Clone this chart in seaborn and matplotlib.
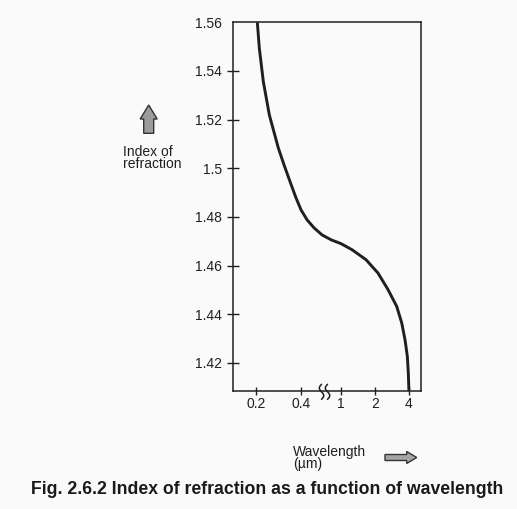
import numpy as np
import pandas as pd
import matplotlib
matplotlib.use("Agg")
import matplotlib.pyplot as plt
from matplotlib.patches import FancyArrow
import seaborn as sns

# Refractive index of glass against wavelength
wavelength_um = [0.2040, 0.2104, 0.2238, 0.2455, 0.2820, 0.3078, 0.3377,
                 0.3703, 0.4000, 0.4598, 0.5408, 0.6510, 0.8022, 1.0102,
                 1.2625, 1.6768, 2.1387, 2.6184, 3.1240, 3.4575, 3.6960,
                 3.8727, 3.9519, 4.0000]
refractive_index = [1.5600, 1.5493, 1.5356, 1.5219, 1.5083, 1.5014, 1.4945,
                    1.4878, 1.4829, 1.4788, 1.4755, 1.4726, 1.4706, 1.4690,
                    1.4665, 1.4624, 1.4569, 1.4501, 1.4432, 1.4364, 1.4295,
                    1.4227, 1.4158, 1.4086]

x_ticks = [0.2, 0.4, 1, 2, 4]
x_tick_labels = ["0.2", "0.4", "1", "2", "4"]
y_ticks = [1.42, 1.44, 1.46, 1.48, 1.50, 1.52, 1.54, 1.56]
y_tick_labels = ["1.42", "1.44", "1.46", "1.48", "1.5", "1.52", "1.54", "1.56"]

y_label = "Index of\nrefraction"
x_label = "Wavelength\n(\u00b5m)"
caption = "Fig. 2.6.2 Index of refraction as a function of wavelength"


# Broken wavelength axis: log spacing below 0.4 um, a compressed gap
# between 0.4 and 1 um, and log spacing again above 1 um.
def forward(lam):
    lam = np.clip(np.asarray(lam, dtype=float), 1e-6, None)
    a = 45.0 * np.log2(lam / 0.2)
    b = 45.0 + 39.5 * np.log(lam / 0.4) / np.log(2.5)
    c = 84.5 + 34.2 * np.log2(lam)
    return np.where(lam <= 0.4, a, np.where(lam < 1.0, b, c))


def inverse(u):
    u = np.asarray(u, dtype=float)
    a = 0.2 * 2.0 ** (u / 45.0)
    b = 0.4 * 2.5 ** ((u - 45.0) / 39.5)
    c = 2.0 ** ((u - 84.5) / 34.2)
    return np.where(u <= 45.0, a, np.where(u < 84.5, b, c))


sns.set_style("white")
plt.rcParams["font.family"] = ["Liberation Sans", "DejaVu Sans"]

W, H = 517, 509
ink = "#1f1f1f"
paper = "#fbfafb"

fig = plt.figure(figsize=(W / 100, H / 100), dpi=100, facecolor=paper)
ax = fig.add_axes([232.7 / W, 1 - 391.3 / H, (421.0 - 232.7) / W, (391.3 - 22.3) / H])
ax.set_facecolor(paper)

df = pd.DataFrame({"wavelength": wavelength_um, "n": refractive_index})
sns.lineplot(data=df, x="wavelength", y="n", sort=False, estimator=None,
             color=ink, linewidth=2.1, ax=ax)
ax.lines[0].set_solid_joinstyle("round")
ax.lines[0].set_solid_capstyle("butt")

ax.set_xscale("function", functions=(forward, inverse))
ax.set_xlim(0.1396, 5.11)
ax.set_ylim(1.4083, 1.56)

ax.set_xticks(x_ticks)
ax.set_xticklabels(x_tick_labels)
ax.set_yticks(y_ticks)
ax.set_yticklabels(y_tick_labels)
ax.minorticks_off()
ax.set_xlabel("")
ax.set_ylabel("")

ax.tick_params(axis="y", direction="inout", length=8.5, width=1.0, pad=3.6,
               labelsize=10, colors=ink, left=True)
ax.tick_params(axis="x", direction="inout", length=6.0, width=1.0, pad=1.0,
               labelsize=10, colors=ink, bottom=True)
# the top label sits on the frame, so its tick mark is hidden
ax.yaxis.get_major_ticks()[-1].tick1line.set_visible(False)

for s in ax.spines.values():
    s.set_visible(True)
    s.set_color(ink)
    s.set_linewidth(1.1)

# Overlay in pixel units for annotations
ov = fig.add_axes([0, 0, 1, 1], facecolor="none")
ov.set_xlim(0, W)
ov.set_ylim(0, H)
ov.axis("off")

# axis-break mark between 0.4 and 1 um
bx = ax.transData.transform((inverse(68.5), 1.42))[0]
by = ax.transData.transform((1.0, 1.4083))[1]
t = np.linspace(0, 1, 40)
for off in (-3.0, 3.0):
    ov.plot(bx + off + 2.2 * np.sin(2 * np.pi * t), by - 8 + 15 * t,
            color=ink, linewidth=1.1)

# axis titles with block arrows
fig.text(122.7 / W, 1 - 158.0 / H, y_label, ha="left", va="center",
         fontsize=10, color=ink, linespacing=0.9)
ov.add_patch(FancyArrow(148.7, H - 133.3, 0, 28.3, width=10, head_width=17,
                        head_length=14, length_includes_head=True,
                        facecolor="#9c9c9c", edgecolor="#333333", linewidth=1.0))

fig.text(293.3 / W, 1 - 458.0 / H, x_label, ha="left", va="center",
         fontsize=10, color=ink, linespacing=0.9)
ov.add_patch(FancyArrow(385.0, H - 457.5, 31.7, 0, width=6, head_width=12,
                        head_length=10, length_includes_head=True,
                        facecolor="#a6a6a6", edgecolor="#333333", linewidth=1.0))

fig.text(267.5 / W, 1 - 490.0 / H, caption, ha="center", va="center",
         fontsize=12.7, fontweight="bold", color="#1a1a1a")

fig.savefig("out.png", dpi=100, facecolor=paper)
